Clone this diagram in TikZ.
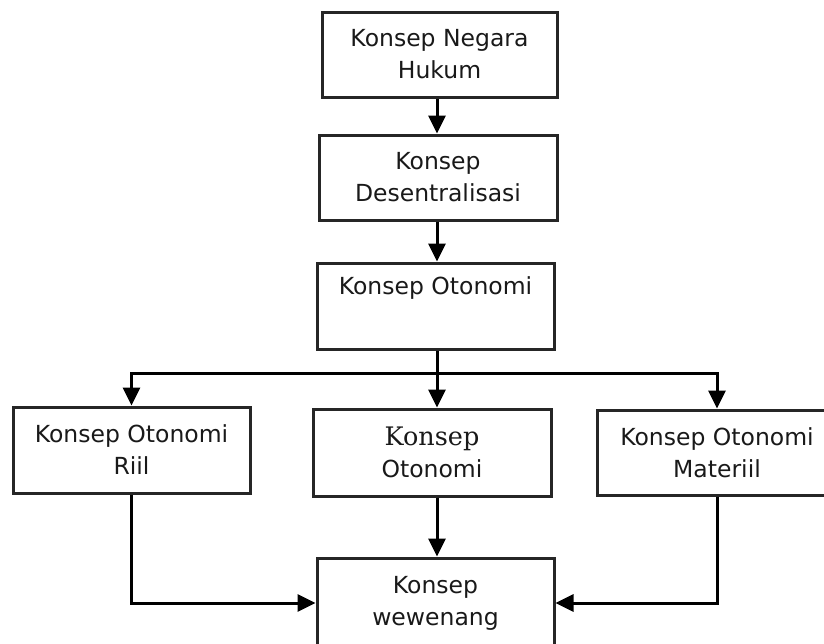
\documentclass[tikz,border=0pt]{standalone}
\usepackage{fontspec}
\setmainfont{DejaVu Sans}
\newfontfamily\serifkonsep{DejaVu Serif}
\usetikzlibrary{arrows.meta}
\tikzset{
  box/.style={draw=black!85, line width=3pt, inner sep=0pt, align=center,
    text=black!90, font=\fontsize{23.5}{32}\selectfont},
  arr/.style={draw=black, line width=3pt, -{Triangle[length=18pt,width=17pt]}}
}
\begin{document}
\begin{tikzpicture}[x=1pt,y=-1pt]
\useasboundingbox (0,0) rectangle (824,643);
\node[box, minimum width=235pt, minimum height=85pt] (B1) at (439.5,54.5) {Konsep Negara\\Hukum};
\node[box, minimum width=238pt, minimum height=85pt] (B2) at (438,177.5) {Konsep\\Desentralisasi};
\node[box, minimum width=237pt, minimum height=86pt] (B3) at (435.5,306) {Konsep Otonomi\\\strut};
\node[box, minimum width=237pt, minimum height=86pt] (B4) at (131.5,450) {Konsep Otonomi\\Riil};
\node[box, minimum width=238pt, minimum height=87pt] (B5) at (432,452.5) {{\serifkonsep\fontsize{25.5}{32}\selectfont Konsep}\\Otonomi};
\node[box, minimum width=240pt, minimum height=85pt] (B6) at (717,452.5) {Konsep Otonomi\\Materiil};
\node[box, minimum width=237pt, minimum height=90pt] (B7) at (435.5,603) {Konsep\\wewenang};
\coordinate (c) at (437,0);
\coordinate (split) at (437,373);
\draw[arr] (B1.south -| c) -- (B2.north -| c);
\draw[arr] (B2.south -| c) -- (B3.north -| c);
\draw[arr] (B3.south -| c) -- (B5.north -| c);
\draw[arr] (split) -| (B4.north);
\draw[arr] (split) -| (B6.north);
\draw[arr] (B5.south -| c) -- (B7.north -| c);
\draw[arr] (B4.south) |- (B7.west);
\draw[arr] (B6.south) |- (B7.east);
\end{tikzpicture}
\end{document}
